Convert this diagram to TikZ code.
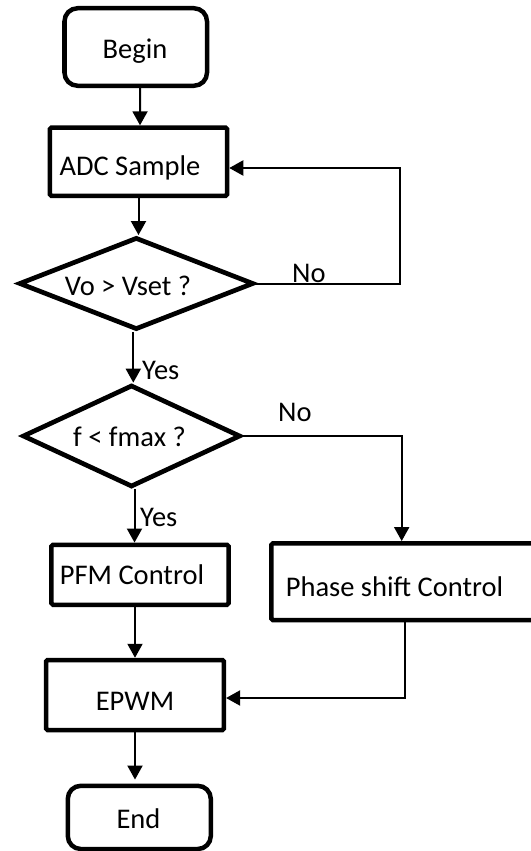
\documentclass[tikz,border=0pt]{standalone}
\usepackage{fontspec}
\setmainfont{Carlito}
\usetikzlibrary{arrows.meta,shapes.geometric,calc}
\newcommand{\lblfont}{\fontsize{28.5bp}{34bp}\selectfont}
\tikzset{
  box/.style={draw, line width=4.5bp, inner sep=0pt, rounded corners=1.5bp},
  term/.style={box, rounded corners=13bp},
  decision/.style={draw, diamond, line width=4.7bp, inner sep=0pt},
  txt/.style={inner sep=0pt, anchor=base, font=\lblfont},
  tag/.style={inner sep=0pt, anchor=base west, font=\lblfont},
  arr/.style={line width=2bp, -{Triangle[width=15bp,length=14bp]}},
}
\begin{document}
\begin{tikzpicture}[x=1bp, y=-1bp]
  \useasboundingbox (0,0) rectangle (531,851);
  \clip (0,0) rectangle (531,851);

  % shapes
  \node[term, minimum width=142.5bp, minimum height=77.5bp] (begin) at (135.75,47) {};
  \node[box, minimum width=177bp, minimum height=68.3bp] (adc) at (138.5,161.7) {};
  \node[decision, minimum width=234.7bp, minimum height=92.2bp] (d1) at (136.3,283.5) {};
  \node[decision, minimum width=218bp, minimum height=102bp] (d2) at (131.5,436) {};
  \node[box, minimum width=177bp, minimum height=60bp] (pfm) at (140,574.8) {};
  \node[box, minimum width=288.6bp, minimum height=76.7bp] (phase) at (415.7,581.65) {};
  \node[box, minimum width=177.7bp, minimum height=70bp] (epwm) at (135,695) {};
  \node[term, minimum width=143bp, minimum height=63.2bp] (end) at (139.3,817.4) {};

  % texts
  \node[txt] (tbegin) at (135,58.3) {Begin};
  \node[txt] (tadc) at (130,175) {ADC Sample};
  \node[txt] (td1) at (128,295) {Vo > Vset ?};
  \node[txt] (td2) at (129.5,446) {f < fmax ?};
  \node[txt] (tpfm) at (132,584.5) {PFM Control};
  \node[txt] (tphase) at (394.5,596) {Phase shift Control};
  \node[txt] (tepwm) at (135,710) {EPWM};
  \node[txt] (tend) at (138.5,828.3) {End};
  \node[tag] (no1) at (292,282) {No};
  \node[tag] (yes1) at (142,379) {Yes};
  \node[tag] (no2) at (278,421.7) {No};
  \node[tag] (yes2) at (140,526) {Yes};

  % connectors
  \coordinate (loop) at (400,168);
  \coordinate (nojog) at (401.7,0);

  \draw[arr] ([xshift=4.3bp]begin.south) -- ([xshift=1.5bp]adc.north);
  \draw[arr] (adc.south) -- (adc.south |- d1.north);
  \draw[arr] (d1.east) -| (loop) -- (loop -| adc.east);
  \draw[arr] ([xshift=-3bp]d1.south) -- ([xshift=-3bp]d1.south |- d2.north);
  \draw[arr] (d2.east) -| (nojog |- phase.north);
  \draw[arr] ([xshift=3bp]d2.south) -- ([xshift=3bp]d2.south |- pfm.north);
  \draw[arr] (epwm.north |- pfm.south) -- (epwm.north);
  \draw[arr] ([xshift=-10.7bp]phase.south) |- ([yshift=-3bp]epwm.east);
  \draw[arr, shorten >=4bp] (epwm.south) -- (epwm.south |- end.north);
\end{tikzpicture}
\end{document}
